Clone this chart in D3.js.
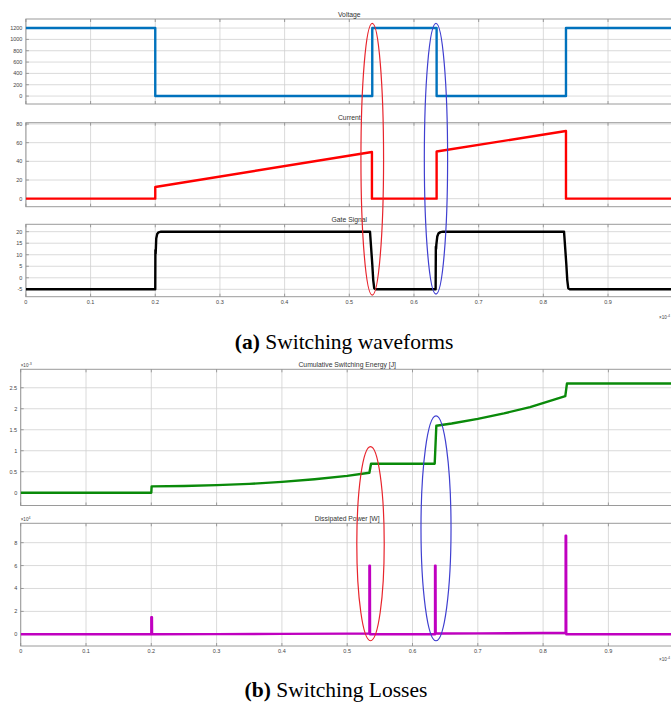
<!DOCTYPE html>
<html>
<head>
<meta charset="utf-8">
<script src="https://cdn.jsdelivr.net/npm/d3@7"></script>
<style>
  body { margin: 0; background: #fff; }
  svg { display: block; font-family: "Liberation Sans", Arial, sans-serif; }
  .caption { font-family: "Liberation Serif", "Times New Roman", serif; font-size: 21.5px; fill: #000; }
</style>
</head>
<body>
<div id="chart"></div>
<script>
// Time axis ticks (x10^-4 s)
const timeTicks = [0, 0.1, 0.2, 0.3, 0.4, 0.5, 0.6, 0.7, 0.8, 0.9];
const timeGrid = [0, 0.1, 0.2, 0.3, 0.4, 0.5, 0.6, 0.7, 0.8, 0.9, 1.0];

// Voltage [V]
const voltT = [0, 0.2, 0.2, 0.5355, 0.5355, 0.635, 0.635, 0.835, 0.835, 1.0];
const voltV = [1200, 1200, 0, 0, 1200, 1200, 0, 0, 1200, 1200];
const voltTicks = [0, 200, 400, 600, 800, 1000, 1200];

// Current [A]
const currT = [0, 0.2, 0.2, 0.535, 0.535, 0.635, 0.635, 0.835, 0.835, 1.0];
const currI = [0, 0, 12.5, 50, 0, 0, 50.5, 72.5, 0, 0];
const currTicks = [0, 20, 40, 60, 80];

// Gate signal [V]
const gateT = [0, 0.2, 0.2002, 0.2006, 0.201, 0.2015, 0.203, 0.205, 0.209, 0.532, 0.5325, 0.5355, 0.537, 0.5385, 0.541,
               0.6335, 0.6338, 0.6342, 0.6346, 0.636, 0.638, 0.641, 0.645, 0.832, 0.8325, 0.8355, 0.837, 0.8385, 0.841, 1.0];
const gateV = [-5, -5, 12, 10.5, 13, 17, 19, 19.7, 20, 20, 18, 6, -1, -4.5, -5,
               -5, 13.5, 12.5, 14.5, 17.9, 19.3, 19.8, 20, 20, 18, 6, -1, -4.5, -5, -5];
const gateTicks = [-5, 0, 5, 10, 15, 20];

// Cumulative switching energy [x10^-3 J]
const energyT = [0, 0.2, 0.2005, 0.25, 0.3, 0.35, 0.4, 0.45, 0.5, 0.534, 0.5365, 0.634, 0.6365, 0.66, 0.7, 0.74, 0.78, 0.834, 0.8365, 1.0];
const energyE = [0, 0, 0.15, 0.16, 0.18, 0.21, 0.257, 0.32, 0.40, 0.476, 0.69, 0.69, 1.595, 1.65, 1.76, 1.89, 2.04, 2.30, 2.60, 2.60];
const energyTicks = [0, 0.5, 1, 1.5, 2, 2.5];

// Dissipated power [x10^4 W]
const powT = [0, 0.2, 0.2, 0.201, 0.2012, 0.3, 0.4, 0.5, 0.534, 0.534, 0.5348, 0.535, 0.6345, 0.6345, 0.6353, 0.6355, 0.7, 0.8, 0.8345, 0.8345, 0.8353, 0.8355, 1.0];
const powP = [0, 0, 1.5, 1.5, 0.01, 0.02, 0.04, 0.06, 0.07, 6, 6, 0, 0, 6, 6, 0.07, 0.08, 0.11, 0.12, 8.6, 8.6, 0, 0];
const powTicks = [0, 2, 4, 6, 8];

// Highlight ellipses: centre time, half width (time), top value / bottom value in their panels
const ellA = [
  { t: 0.5355, rt: 0.0175, top: 1284, bottom: -7.5, color: "#e8242c" },
  { t: 0.634, rt: 0.018, top: 1284, bottom: -7.05, color: "#3f3fd0" }
];
const ellB = [
  { t: 0.5357, rt: 0.021, top: 1.10, bottom: -0.56, color: "#e8242c" },
  { t: 0.636, rt: 0.023, top: 1.83, bottom: -0.56, color: "#3f3fd0" }
];

const W = 671, H = 703;
const svg = d3.select("#chart").append("svg")
  .attr("width", W).attr("height", H);
svg.append("rect").attr("width", W).attr("height", H).attr("fill", "#fff");

const xA = d3.scaleLinear().domain([0, 1]).range([25.9, 672.7]);
const xB = d3.scaleLinear().domain([0, 1]).range([20.7, 673.7]);

function drawPanel(opt) {
  const x = opt.x;
  const y = d3.scaleLinear().domain(opt.domain).range([opt.bottom, opt.top]);
  const g = svg.append("g");
  const x0 = x.range()[0], x1 = x.range()[1];

  // grid
  g.selectAll(".gx").data(timeGrid).enter().append("line")
    .attr("x1", d => x(d)).attr("x2", d => x(d))
    .attr("y1", opt.top).attr("y2", opt.bottom)
    .attr("stroke", "#d0d0d0").attr("stroke-width", 0.8);
  g.selectAll(".gy").data(opt.ticks).enter().append("line")
    .attr("x1", x0).attr("x2", x1)
    .attr("y1", d => y(d)).attr("y2", d => y(d))
    .attr("stroke", "#d0d0d0").attr("stroke-width", 0.8);

  // frame
  g.append("rect")
    .attr("x", x0).attr("y", opt.top)
    .attr("width", x1 - x0).attr("height", opt.bottom - opt.top)
    .attr("fill", "none").attr("stroke", "#9a9a9a").attr("stroke-width", 1);

  // inward ticks
  g.selectAll(".tx").data(timeGrid).enter().append("path")
    .attr("d", d => `M${x(d)},${opt.top}v3M${x(d)},${opt.bottom}v-3`)
    .attr("stroke", "#8a8a8a").attr("stroke-width", 0.8);
  g.selectAll(".ty").data(opt.ticks).enter().append("path")
    .attr("d", d => `M${x0},${y(d)}h3`)
    .attr("stroke", "#8a8a8a").attr("stroke-width", 0.8);

  // y tick labels
  g.selectAll(".ly").data(opt.ticks).enter().append("text")
    .attr("x", x0 - 3.5).attr("y", d => y(d) + 2)
    .attr("text-anchor", "end")
    .style("font-size", "5.5px").attr("fill", "#444")
    .text(d => d);

  // title
  g.append("text")
    .attr("x", (x0 + x1) / 2).attr("y", opt.top - 2.3)
    .attr("text-anchor", "middle")
    .style("font-size", "6.8px").attr("fill", "#333")
    .text(opt.title);

  if (opt.exp) {
    const e = g.append("text")
      .attr("x", x0).attr("y", opt.top - 2.5)
      .style("font-size", "4.6px").attr("fill", "#444");
    e.append("tspan").text("×10");
    e.append("tspan").attr("dy", -1.8).style("font-size", "3.6px").text(opt.exp);
  }

  if (opt.xLabels) {
    g.selectAll(".lx").data(timeTicks).enter().append("text")
      .attr("x", d => x(d)).attr("y", opt.bottom + 7.2)
      .attr("text-anchor", "middle")
      .style("font-size", "5.5px").attr("fill", "#444")
      .text(d => d);
    const e = g.append("text")
      .attr("x", 659).attr("y", opt.bottom + opt.expGap)
      .style("font-size", "4.6px").attr("fill", "#444");
    e.append("tspan").text("×10");
    e.append("tspan").attr("dy", -1.8).style("font-size", "3.6px").text("-4");
  }

  // series
  const pts = opt.tx.map((t, i) => [t, opt.vy[i]]);
  const clipId = "clip" + Math.round(opt.top);
  svg.append("clipPath").attr("id", clipId).append("rect")
    .attr("x", x0).attr("y", opt.top).attr("width", x1 - x0).attr("height", opt.bottom - opt.top);
  g.append("path")
    .datum(pts)
    .attr("clip-path", `url(#${clipId})`)
    .attr("fill", "none")
    .attr("stroke", opt.color)
    .attr("stroke-width", 2.4)
    .attr("stroke-linejoin", "round")
    .attr("d", d3.line().x(d => x(d[0])).y(d => y(d[1])));

  return y;
}

const yV = drawPanel({ x: xA, top: 19, bottom: 104, domain: [-140, 1360], ticks: voltTicks,
  title: "Voltage", tx: voltT, vy: voltV, color: "#0072bd" });
drawPanel({ x: xA, top: 122.7, bottom: 206.7, domain: [-8.6, 81.4], ticks: currTicks,
  title: "Current", tx: currT, vy: currI, color: "#ff0000" });
const yG = drawPanel({ x: xA, top: 224.3, bottom: 296.7, domain: [-8.2, 23.2], ticks: gateTicks,
  title: "Gate Signal", tx: gateT, vy: gateV, color: "#000000", xLabels: true, expGap: 22.5 });

const yE = drawPanel({ x: xB, top: 369.3, bottom: 505.5, domain: [-0.305, 2.94], ticks: energyTicks,
  title: "Cumulative Switching Energy [J]", tx: energyT, vy: energyE, color: "#0a8a0a", exp: "-3" });
const yP = drawPanel({ x: xB, top: 523.3, bottom: 646, domain: [-1.02, 9.69], ticks: powTicks,
  title: "Dissipated Power [W]", tx: powT, vy: powP, color: "#c000c0", exp: "4", xLabels: true, expGap: 15 });

// ellipses
function drawEllipses(list, x, yTop, yBot) {
  svg.append("g").selectAll("ellipse").data(list).enter().append("ellipse")
    .attr("cx", d => x(d.t))
    .attr("cy", d => (yTop(d.top) + yBot(d.bottom)) / 2)
    .attr("rx", d => x(d.t + d.rt) - x(d.t))
    .attr("ry", d => (yBot(d.bottom) - yTop(d.top)) / 2)
    .attr("fill", "none")
    .attr("stroke", d => d.color)
    .attr("stroke-width", 1.2);
}
drawEllipses(ellA, xA, yV, yG);
drawEllipses(ellB, xB, yE, yP);

// captions
const capA = svg.append("text").attr("class", "caption")
  .attr("x", 344).attr("y", 348.5).attr("text-anchor", "middle");
capA.append("tspan").style("font-weight", "bold").text("(a)");
capA.append("tspan").text(" Switching waveforms");

const capB = svg.append("text").attr("class", "caption")
  .attr("x", 336).attr("y", 696.5).attr("text-anchor", "middle");
capB.append("tspan").style("font-weight", "bold").text("(b)");
capB.append("tspan").text(" Switching Losses");
</script>
</body>
</html>
